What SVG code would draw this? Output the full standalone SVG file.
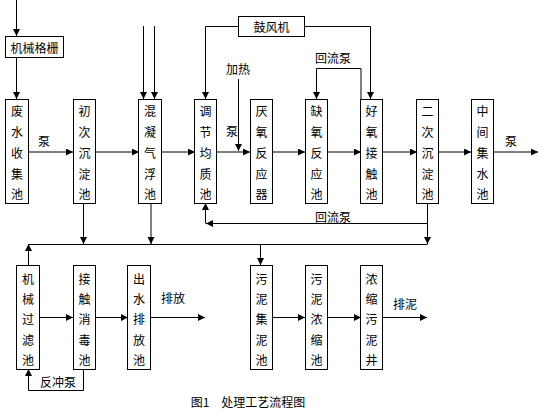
<svg xmlns="http://www.w3.org/2000/svg" width="539" height="412" viewBox="0 0 539 412">
<style>
.box{fill:#fff;stroke:#000;stroke-width:1}
.t{font-family:"Noto Sans CJK SC","Liberation Sans",sans-serif;font-size:12px;fill:#000;text-anchor:middle;dominant-baseline:central}
.c{fill:none;stroke:#000;stroke-width:1}
</style>
<defs>
<marker id="a" markerUnits="userSpaceOnUse" markerWidth="8" markerHeight="8" refX="7" refY="3.5" orient="auto">
<path d="M0,0 L7,3.5 L0,7 z" fill="#000"/>
</marker>
</defs>
<rect width="539" height="412" fill="#fff"/>
<g id="connectors">
<path class="c" d="M16.5,0 V36" marker-end="url(#a)"/>
<path class="c" d="M16.5,57 V99" marker-end="url(#a)"/>
<path class="c" d="M28,152 H73" marker-end="url(#a)"/>
<path class="c" d="M95,152 H139" marker-end="url(#a)"/>
<path class="c" d="M143.5,26 V99" marker-end="url(#a)"/>
<path class="c" d="M154.5,26 V99" marker-end="url(#a)"/>
<path class="c" d="M161,152 H195" marker-end="url(#a)"/>
<path class="c" d="M238,26.5 H205.5 V99" marker-end="url(#a)"/>
<path class="c" d="M217,152 H250" marker-end="url(#a)"/>
<path class="c" d="M238.5,79 V151" marker-end="url(#a)"/>
<path class="c" d="M272,152 H305" marker-end="url(#a)"/>
<path class="c" d="M327,152 H361" marker-end="url(#a)"/>
<path class="c" d="M305,26.5 H370.5 V99" marker-end="url(#a)"/>
<path class="c" d="M361,99 V68.5 H316.5 V99" marker-end="url(#a)"/>
<path class="c" d="M382,152 H417" marker-end="url(#a)"/>
<path class="c" d="M438,152 H471" marker-end="url(#a)"/>
<path class="c" d="M493,152 H538" marker-end="url(#a)"/>
<path class="c" d="M427.5,203 V244" marker-end="url(#a)"/>
<path class="c" d="M427.5,223.5 H206" marker-end="url(#a)"/>
<path class="c" d="M205.5,223.5 V203" marker-end="url(#a)"/>
<path class="c" d="M83.5,203 V244" marker-end="url(#a)"/>
<path class="c" d="M151,203 V244" marker-end="url(#a)"/>
<path class="c" d="M28,244.5 H427.5"/>
<path class="c" d="M28.5,265 V244" marker-end="url(#a)"/>
<path class="c" d="M260.5,244 V265" marker-end="url(#a)"/>
<path class="c" d="M39,317.5 H73" marker-end="url(#a)"/>
<path class="c" d="M95,317.5 H128" marker-end="url(#a)"/>
<path class="c" d="M150,317.5 H205" marker-end="url(#a)"/>
<path class="c" d="M272,317.5 H305" marker-end="url(#a)"/>
<path class="c" d="M327,317.5 H361" marker-end="url(#a)"/>
<path class="c" d="M382,317.5 H427" marker-end="url(#a)"/>
<path class="c" d="M83.5,369 V390.5 H28.5 V369" marker-end="url(#a)"/>
</g>
<g id="labels">
<text class="t" x="44" y="140">泵</text>
<text class="t" x="232" y="130">泵</text>
<text class="t" x="238" y="68">加热</text>
<text class="t" x="333" y="57">回流泵</text>
<text class="t" x="511" y="140">泵</text>
<text class="t" x="333" y="216">回流泵</text>
<text class="t" x="173" y="297">排放</text>
<text class="t" x="405" y="303">排泥</text>
<text class="t" x="58" y="381">反冲泵</text>
<text class="t" x="248" y="401">图1　处理工艺流程图</text>
</g>
<g id="n-grid"><rect class="box" x="5.5" y="36.5" width="58" height="21"/><text class="t" x="34.5" y="47">机械格栅</text></g>
<g id="n-blower"><rect class="box" x="238.5" y="16.5" width="66" height="20"/><text class="t" x="271.5" y="26.5">鼓风机</text></g>
<g id="n1"><rect class="box" x="5.5" y="99.5" width="23" height="104"/><text class="t" x="17" y="110">废</text><text class="t" x="17" y="131">水</text><text class="t" x="17" y="152">收</text><text class="t" x="17" y="173">集</text><text class="t" x="17" y="193.5">池</text></g>
<g id="n2"><rect class="box" x="73.5" y="99.5" width="22" height="104"/><text class="t" x="84.5" y="110">初</text><text class="t" x="84.5" y="131">次</text><text class="t" x="84.5" y="152">沉</text><text class="t" x="84.5" y="173">淀</text><text class="t" x="84.5" y="193.5">池</text></g>
<g id="n3"><rect class="box" x="138.5" y="99.5" width="23" height="104"/><text class="t" x="150" y="110">混</text><text class="t" x="150" y="131">凝</text><text class="t" x="150" y="152">气</text><text class="t" x="150" y="173">浮</text><text class="t" x="150" y="193.5">池</text></g>
<g id="n4"><rect class="box" x="194.5" y="99.5" width="22" height="104"/><text class="t" x="205.5" y="110">调</text><text class="t" x="205.5" y="131">节</text><text class="t" x="205.5" y="152">均</text><text class="t" x="205.5" y="173">质</text><text class="t" x="205.5" y="193.5">池</text></g>
<g id="n5"><rect class="box" x="250.5" y="99.5" width="22" height="104"/><text class="t" x="261.5" y="110">厌</text><text class="t" x="261.5" y="131">氧</text><text class="t" x="261.5" y="152">反</text><text class="t" x="261.5" y="173">应</text><text class="t" x="261.5" y="193.5">器</text></g>
<g id="n6"><rect class="box" x="305.5" y="99.5" width="22" height="104"/><text class="t" x="316.5" y="110">缺</text><text class="t" x="316.5" y="131">氧</text><text class="t" x="316.5" y="152">反</text><text class="t" x="316.5" y="173">应</text><text class="t" x="316.5" y="193.5">池</text></g>
<g id="n7"><rect class="box" x="360.5" y="99.5" width="22" height="104"/><text class="t" x="371.5" y="110">好</text><text class="t" x="371.5" y="131">氧</text><text class="t" x="371.5" y="152">接</text><text class="t" x="371.5" y="173">触</text><text class="t" x="371.5" y="193.5">池</text></g>
<g id="n8"><rect class="box" x="416.5" y="99.5" width="22" height="104"/><text class="t" x="427.5" y="110">二</text><text class="t" x="427.5" y="131">次</text><text class="t" x="427.5" y="152">沉</text><text class="t" x="427.5" y="173">淀</text><text class="t" x="427.5" y="193.5">池</text></g>
<g id="n9"><rect class="box" x="471.5" y="99.5" width="22" height="104"/><text class="t" x="482.5" y="110">中</text><text class="t" x="482.5" y="131">间</text><text class="t" x="482.5" y="152">集</text><text class="t" x="482.5" y="173">水</text><text class="t" x="482.5" y="193.5">池</text></g>
<g id="n10"><rect class="box" x="16.5" y="265.5" width="23" height="104"/><text class="t" x="28" y="278">机</text><text class="t" x="28" y="298.5">械</text><text class="t" x="28" y="318.5">过</text><text class="t" x="28" y="339">滤</text><text class="t" x="28" y="359.5">池</text></g>
<g id="n11"><rect class="box" x="73.5" y="265.5" width="22" height="104"/><text class="t" x="84.5" y="278">接</text><text class="t" x="84.5" y="298.5">触</text><text class="t" x="84.5" y="318.5">消</text><text class="t" x="84.5" y="339">毒</text><text class="t" x="84.5" y="359.5">池</text></g>
<g id="n12"><rect class="box" x="127.5" y="265.5" width="23" height="104"/><text class="t" x="139" y="278">出</text><text class="t" x="139" y="298.5">水</text><text class="t" x="139" y="318.5">排</text><text class="t" x="139" y="339">放</text><text class="t" x="139" y="359.5">池</text></g>
<g id="n13"><rect class="box" x="250.5" y="265.5" width="22" height="104"/><text class="t" x="261.5" y="278">污</text><text class="t" x="261.5" y="298.5">泥</text><text class="t" x="261.5" y="318.5">集</text><text class="t" x="261.5" y="339">泥</text><text class="t" x="261.5" y="359.5">池</text></g>
<g id="n14"><rect class="box" x="305.5" y="265.5" width="22" height="104"/><text class="t" x="316.5" y="278">污</text><text class="t" x="316.5" y="298.5">泥</text><text class="t" x="316.5" y="318.5">浓</text><text class="t" x="316.5" y="339">缩</text><text class="t" x="316.5" y="359.5">池</text></g>
<g id="n15"><rect class="box" x="360.5" y="265.5" width="22" height="104"/><text class="t" x="371.5" y="278">浓</text><text class="t" x="371.5" y="298.5">缩</text><text class="t" x="371.5" y="318.5">污</text><text class="t" x="371.5" y="339">泥</text><text class="t" x="371.5" y="359.5">井</text></g>
</svg>
